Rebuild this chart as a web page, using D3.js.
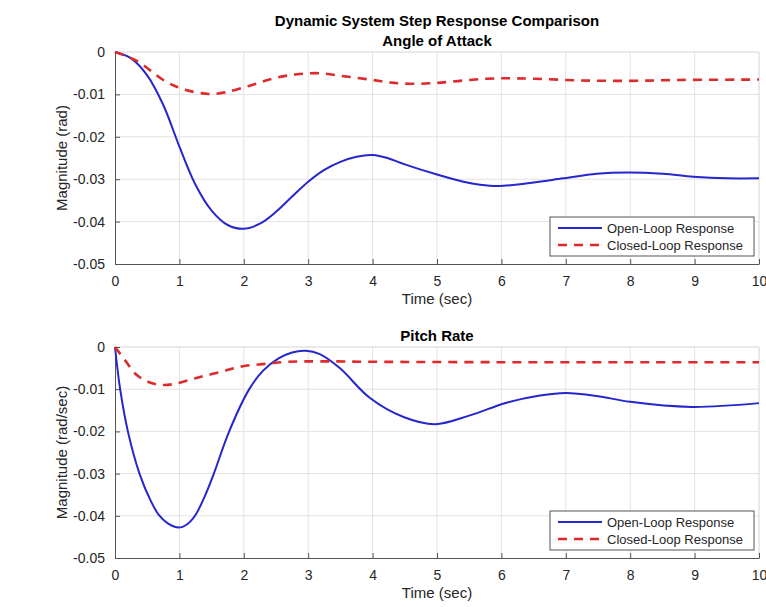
<!DOCTYPE html>
<html>
<head>
<meta charset="utf-8">
<script src="https://cdn.jsdelivr.net/npm/d3@7"></script>
<style>
  body { margin: 0; background: #fff; }
  svg { font-family: "Liberation Sans", Arial, Helvetica, sans-serif; }
</style>
</head>
<body>
<div id="chart"></div>
<script>
// Data: [time (s), magnitude]
const aoaOpen = [
  [0, 0], [0.25, -0.0015], [0.5, -0.0055], [0.75, -0.0125], [1.0, -0.0223], [1.25, -0.0313],
  [1.5, -0.0374], [1.75, -0.0408], [2.0, -0.0417], [2.25, -0.0405], [2.5, -0.0377], [2.75, -0.0341],
  [3.0, -0.0306], [3.25, -0.0278], [3.5, -0.0259], [3.75, -0.0247], [4.0, -0.0243], [4.25, -0.0251],
  [4.5, -0.0265], [5.0, -0.0289], [5.41, -0.0306], [5.67, -0.0313], [5.95, -0.0316], [6.44, -0.0309],
  [6.96, -0.0298], [7.48, -0.0287], [7.97, -0.0284], [8.51, -0.0287], [8.98, -0.0294], [9.5, -0.0298],
  [10, -0.0298]
];
const aoaClosed = [
  [0, 0], [0.34, -0.0021], [0.78, -0.0069], [1.09, -0.0089], [1.46, -0.0099], [1.72, -0.0095],
  [2.08, -0.008], [2.44, -0.0063], [2.8, -0.0053], [3.17, -0.005], [3.55, -0.0057], [3.96, -0.0065],
  [4.27, -0.0072], [4.63, -0.0075], [4.99, -0.0073], [5.36, -0.0068], [5.77, -0.0063], [6.13, -0.0062],
  [6.5, -0.0063], [7.22, -0.0067], [8.0, -0.0068], [8.77, -0.0066], [10, -0.0065]
];
const pitchOpen = [
  [0, 0], [0.08, -0.01], [0.2, -0.02], [0.38, -0.03], [0.55, -0.0363], [0.68, -0.0398], [0.82, -0.0418],
  [0.99, -0.0428], [1.12, -0.042], [1.25, -0.0398], [1.39, -0.0355], [1.53, -0.0302], [1.77, -0.0201],
  [2.08, -0.0101], [2.3, -0.0056], [2.54, -0.0027], [2.75, -0.0013], [2.96, -0.0009], [3.18, -0.0017],
  [3.49, -0.005], [3.96, -0.0121], [4.48, -0.0166], [4.97, -0.0183], [5.51, -0.0162], [6.08, -0.0132],
  [6.6, -0.0115], [7.0, -0.0109], [7.48, -0.0116], [8.0, -0.013], [8.95, -0.0142], [10, -0.0133]
];
const pitchClosed = [
  [0, 0], [0.16, -0.0032], [0.32, -0.0064], [0.52, -0.0083], [0.73, -0.009], [0.94, -0.0087],
  [1.25, -0.0074], [1.61, -0.006], [1.97, -0.0046], [2.34, -0.004], [2.7, -0.0035], [3.17, -0.0034],
  [4.0, -0.0035], [6.0, -0.0036], [8.0, -0.0036], [10, -0.0036]
];

const xTicks = [0, 1, 2, 3, 4, 5, 6, 7, 8, 9, 10];
const yTicks = [0, -0.01, -0.02, -0.03, -0.04, -0.05];
const yTickLabels = ["0", "-0.01", "-0.02", "-0.03", "-0.04", "-0.05"];
const legendLabels = ["Open-Loop Response", "Closed-Loop Response"];

const mainTitle = "Dynamic System Step Response Comparison";
const panels = [
  { title: "Angle of Attack", ylabel: "Magnitude (rad)", open: aoaOpen, closed: aoaClosed, top: 52, bottom: 264 },
  { title: "Pitch Rate", ylabel: "Magnitude (rad/sec)", open: pitchOpen, closed: pitchClosed, top: 347, bottom: 558 }
];

const W = 766, H = 607;
const left = 115, right = 759;
const BLUE = "#2626cc", RED = "#dd2a2a", TXT = "#262626";

const svg = d3.select("#chart").append("svg")
  .attr("width", W)
  .attr("height", H);

const x = d3.scaleLinear().domain([0, 10]).range([left, right]);

svg.append("text")
  .attr("x", (left + right) / 2)
  .attr("y", 26)
  .attr("text-anchor", "middle")
  .attr("font-size", 15)
  .attr("font-weight", "bold")
  .attr("fill", "#000")
  .text(mainTitle);

panels.forEach(p => {
  const y = d3.scaleLinear().domain([-0.05, 0]).range([p.bottom, p.top]);
  const g = svg.append("g");

  // grid
  g.append("g").selectAll("line").data(xTicks.slice(1, -1)).join("line")
    .attr("x1", d => x(d)).attr("x2", d => x(d))
    .attr("y1", p.top).attr("y2", p.bottom)
    .attr("stroke", "#e3e3e3").attr("stroke-width", 1);
  g.append("g").selectAll("line").data(yTicks.slice(1, -1)).join("line")
    .attr("x1", left).attr("x2", right)
    .attr("y1", d => y(d)).attr("y2", d => y(d))
    .attr("stroke", "#e3e3e3").attr("stroke-width", 1);

  // light top / right frame
  g.append("path")
    .attr("d", `M${left},${p.top}H${right}V${p.bottom}`)
    .attr("fill", "none").attr("stroke", "#d4d4d4");

  // x axis
  const xAxis = d3.axisBottom(x).tickValues(xTicks).tickFormat(d3.format("d"))
    .tickSizeInner(-5).tickSizeOuter(0).tickPadding(12);
  const gx = g.append("g").attr("transform", `translate(0,${p.bottom})`).call(xAxis);
  gx.select(".domain").attr("stroke", "#555");
  gx.selectAll(".tick line").attr("stroke", "#555");
  gx.selectAll(".tick text").attr("font-size", 14).attr("fill", TXT);

  // y axis
  const yAxis = d3.axisLeft(y).tickValues(yTicks).tickFormat((d, i) => yTickLabels[i])
    .tickSizeInner(-5).tickSizeOuter(0).tickPadding(10);
  const gy = g.append("g").attr("transform", `translate(${left},0)`).call(yAxis);
  gy.select(".domain").attr("stroke", "#555");
  gy.selectAll(".tick line").attr("stroke", "#555");
  gy.selectAll(".tick text").attr("font-size", 14).attr("fill", TXT);

  // labels
  g.append("text")
    .attr("x", (left + right) / 2)
    .attr("y", p.bottom + 40)
    .attr("text-anchor", "middle")
    .attr("font-size", 15)
    .attr("fill", TXT)
    .text("Time (sec)");
  g.append("text")
    .attr("transform", `translate(67,${(p.top + p.bottom) / 2}) rotate(-90)`)
    .attr("text-anchor", "middle")
    .attr("font-size", 15)
    .attr("fill", TXT)
    .text(p.ylabel);
  g.append("text")
    .attr("x", (left + right) / 2)
    .attr("y", p.top - 6)
    .attr("text-anchor", "middle")
    .attr("font-size", 15)
    .attr("font-weight", "bold")
    .attr("fill", "#000")
    .text(p.title);

  // lines
  const line = d3.line().x(d => x(d[0])).y(d => y(d[1])).curve(d3.curveCatmullRom.alpha(0.5));
  g.append("path").datum(p.open)
    .attr("d", line).attr("fill", "none")
    .attr("stroke", BLUE).attr("stroke-width", 2);
  g.append("path").datum(p.closed)
    .attr("d", line).attr("fill", "none")
    .attr("stroke", RED).attr("stroke-width", 2.6)
    .attr("stroke-dasharray", "9,7");

  // legend
  const lx = 550, ly = p.bottom - 47, lw = 204, lh = 39;
  const lg = g.append("g").attr("transform", `translate(${lx},${ly})`);
  lg.append("rect")
    .attr("width", lw).attr("height", lh)
    .attr("fill", "#fff").attr("stroke", "#555").attr("stroke-width", 1);
  legendLabels.forEach((lab, i) => {
    const cy = 11 + i * 17;
    lg.append("line")
      .attr("x1", 8).attr("x2", 52).attr("y1", cy).attr("y2", cy)
      .attr("stroke", i === 0 ? BLUE : RED)
      .attr("stroke-width", i === 0 ? 2 : 2.6)
      .attr("stroke-dasharray", i === 0 ? null : "9,7");
    lg.append("text")
      .attr("x", 57).attr("y", cy + 4.5)
      .attr("font-size", 13).attr("fill", TXT)
      .text(lab);
  });
});
</script>
</body>
</html>
